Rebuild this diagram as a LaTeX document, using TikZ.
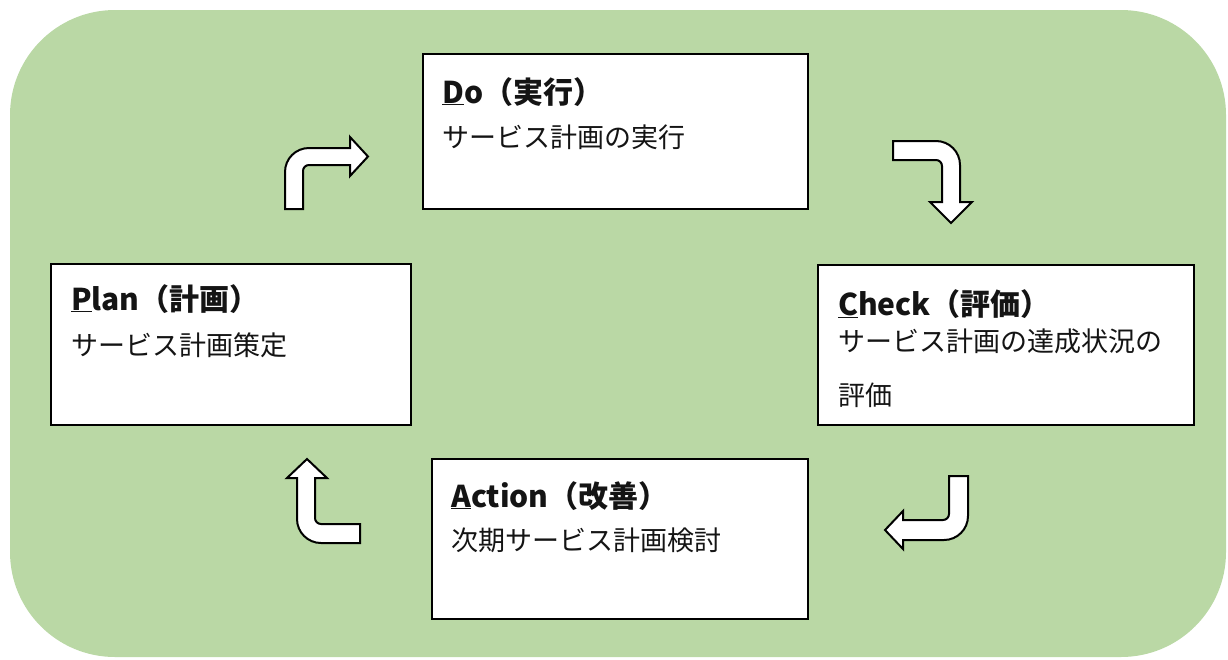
\documentclass[tikz,border=0pt]{standalone}
\usepackage{fontspec}
\setmainfont{Noto Sans CJK JP}
\definecolor{bg}{RGB}{186,216,165}
\definecolor{ink}{RGB}{20,20,20}
\tikzset{
  box/.style={draw=black, line width=2pt, fill=white, inner sep=0pt, anchor=north west},
  ttl/.style={anchor=base west, inner sep=0pt, text=ink, font=\bfseries\fontsize{30}{30}\selectfont},
  txt/.style={anchor=base west, inner sep=0pt, text=ink, font=\fontsize{27}{27}\selectfont},
  barrow/.style={draw=black, line width=2pt, fill=white, line join=miter},
}
\begin{document}
\begin{tikzpicture}[x=1pt,y=-1pt]
\useasboundingbox (0,0) rectangle (1228,659);
\fill[bg, rounded corners=105pt] (10,10) rectangle (1226,657);

% boxes
\node[box, minimum width=385pt, minimum height=155pt] (do) at (422,53) {};
\node[box, minimum width=360pt, minimum height=161pt] (plan) at (50,263) {};
\node[box, minimum width=376pt, minimum height=160pt] (check) at (817,264) {};
\node[box, minimum width=376pt, minimum height=160pt] (action) at (431,458) {};

% texts
\node[ttl] (dot) at (442,103) {\underline{D}o（実行）};
\node[txt] (dob) at (442,147) {サービス計画の実行};
\node[ttl] (plant) at (71,310) {\underline{P}lan（計画）};
\node[txt] (planb) at (71,355) {サービス計画策定};
\node[ttl] (checkt) at (838,315) {\underline{C}heck（評価）};
\node[txt] (checkb) at (838,351) {サービス計画の達成状況の};
\node[txt] (checkc) at (838,405) {評価};
\node[ttl] (actiont) at (451,507) {\underline{A}ction（改善）};
\node[txt] (actionb) at (451,550) {次期サービス計画検討};

% bent arrows
\draw[barrow] (285,209) -- (285,172) .. controls (285,158.7) and (295.7,148) .. (309,148)
  -- (350,148) -- (350,137) -- (368,156.5) -- (350,176) -- (350,165) -- (309,165)
  .. controls (305.7,165) and (303,167.7) .. (303,171) -- (303,209) -- cycle;
\draw[barrow] (893,141) -- (936,141) .. controls (949.25,141) and (960,151.75) .. (960,165)
  -- (960,202) -- (972,202) -- (951,223) -- (930,202) -- (942,202) -- (942,166)
  .. controls (942,162.7) and (939.3,160) .. (936,160) -- (893,160) -- cycle;
\draw[barrow] (949,476) -- (968,476) -- (968,516) .. controls (968,529.25) and (957.25,540) .. (944,540)
  -- (903,540) -- (903,549) -- (885,530) -- (903,511) -- (903,520) -- (943,520)
  .. controls (946.3,520) and (949,517.3) .. (949,514) -- cycle;
\draw[barrow] (360,543) -- (321,543) .. controls (307.75,543) and (297,532.25) .. (297,519)
  -- (297,478) -- (287,478) -- (307,459) -- (327,478) -- (315,478) -- (315,518)
  .. controls (315,521.3) and (317.7,524) .. (321,524) -- (360,524) -- cycle;
\end{tikzpicture}
\end{document}
